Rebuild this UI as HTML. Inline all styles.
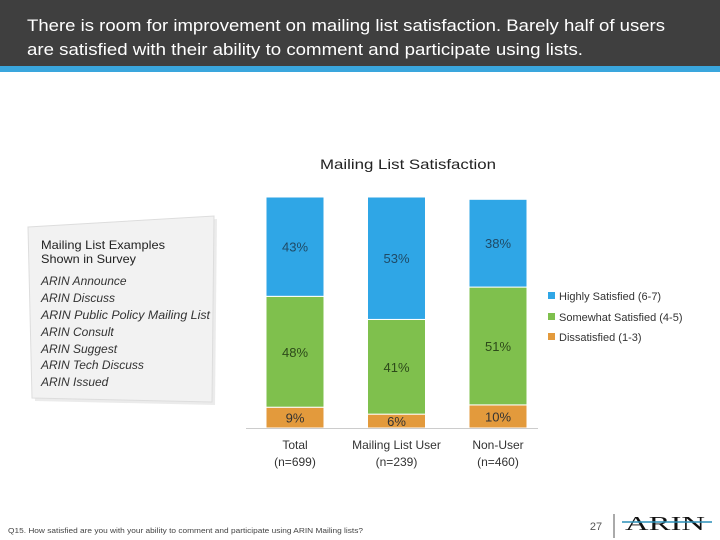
<!DOCTYPE html>
<html><head><meta charset="utf-8"><style>
body{margin:0;background:#fff}
svg{display:block;font-family:"Liberation Sans",sans-serif}
</style></head><body>
<svg id="c" width="720" height="540" viewBox="0 0 720 540">
<rect x="0" y="0" width="720" height="66" fill="#3f3f3f"/>
<rect x="0" y="66" width="720" height="6" fill="#3aa6dd"/>
<text x="27" y="31" fill="#fff" font-size="17" textLength="638" lengthAdjust="spacingAndGlyphs">There is room for improvement on mailing list satisfaction.  Barely half of users</text>
<text x="27" y="55" fill="#fff" font-size="17" textLength="556" lengthAdjust="spacingAndGlyphs">are satisfied with their ability to comment and participate using lists.</text>
<text x="408" y="169" text-anchor="middle" font-size="14" fill="#222" textLength="176" lengthAdjust="spacingAndGlyphs">Mailing List Satisfaction</text>
<g>
<polygon points="31,230 217,219 215,405 35,401" fill="#ddd" opacity="0.6"/>
<polygon points="28,227 214,216 212,402 32,398" fill="#f2f2f2" stroke="#ddd"/>
<text x="41" y="249" font-size="12" fill="#222" textLength="124" lengthAdjust="spacingAndGlyphs">Mailing List Examples</text>
<text x="41" y="263" font-size="12" fill="#222" textLength="95" lengthAdjust="spacingAndGlyphs">Shown in Survey</text>
<g font-size="12" font-style="italic" fill="#333">
<text x="41" y="285">ARIN Announce</text>
<text x="41" y="302">ARIN Discuss</text>
<text x="41" y="319" textLength="169" lengthAdjust="spacingAndGlyphs">ARIN Public Policy Mailing List</text>
<text x="41" y="336">ARIN Consult</text>
<text x="41" y="353">ARIN Suggest</text>
<text x="41" y="369">ARIN Tech Discuss</text>
<text x="41" y="386">ARIN Issued</text>
</g></g>
<g id="bars"></g>
<line x1="246" y1="428.5" x2="538" y2="428.5" stroke="#ccc"/>
<g font-size="11" fill="#333">
<rect x="548" y="292" width="7" height="7" fill="#2fa6e6"/>
<text x="559" y="300">Highly Satisfied (6-7)</text>
<rect x="548" y="313" width="7" height="7" fill="#7fc04d"/>
<text x="559" y="321">Somewhat Satisfied (4-5)</text>
<rect x="548" y="333" width="7" height="7" fill="#e39a3c"/>
<text x="559" y="341">Dissatisfied (1-3)</text>
</g>
<text x="8" y="533" font-size="7.5" fill="#444" textLength="355" lengthAdjust="spacingAndGlyphs">Q15.  How satisfied are you with your ability to comment and participate using ARIN Mailing lists?</text>
<text x="596" y="530" font-size="11" fill="#555" text-anchor="middle">27</text>
<line x1="614" y1="514" x2="614" y2="538" stroke="#555"/>
<g>
<text x="665" y="530" font-family="Liberation Serif,serif" font-size="20" text-anchor="middle" fill="#111" textLength="80" lengthAdjust="spacingAndGlyphs">ARIN</text>
<line x1="622" y1="522" x2="712" y2="522" stroke="#2a8fb8" stroke-width="1.5"/>
</g>
</svg>
<script>
const categories=["Total","Mailing List User","Non-User"];
const sampleLabels=["(n=699)","(n=239)","(n=460)"];
const dissatisfied=[9,6,10];
const somewhat=[48,41,51];
const highly=[43,53,38];
const colors=["#e39a3c","#7fc04d","#2fa6e6"];
const NS="http://www.w3.org/2000/svg";
const g=document.getElementById('bars');
const baseY=428, pxPer=2.31, barW=58;
function xPos(i){return 266+i*101.5;}
function yScale(v){return v*pxPer;}
const series=[dissatisfied,somewhat,highly];
const sNames=["dissatisfied","somewhat","highly"];
const labColors=["#333","#2d4a1a","#1f4a66"];
categories.forEach((c,i)=>{
  let y=baseY;
  series.forEach((s,k)=>{
    const h=yScale(s[i]);
    const r=document.createElementNS(NS,'rect');
    r.setAttribute('x',xPos(i));r.setAttribute('y',y-h);r.setAttribute('width',barW);r.setAttribute('height',h);
    r.setAttribute('fill',colors[k]);r.setAttribute('stroke','#fff');r.setAttribute('stroke-width','1');
    
    
    g.appendChild(r);
    const t=document.createElementNS(NS,'text');
    t.setAttribute('x',xPos(i)+barW/2);t.setAttribute('y',y-h/2+5);
    t.setAttribute('text-anchor','middle');t.setAttribute('font-size','13');t.setAttribute('fill',labColors[k]);
    t.textContent=s[i]+'%';
    
    
    g.appendChild(t);
    y-=h;
  });
  [c,sampleLabels[i]].forEach((txt,j)=>{
    const t=document.createElementNS(NS,'text');
    t.setAttribute('x',xPos(i)+barW/2);t.setAttribute('y',449+j*17);
    t.setAttribute('text-anchor','middle');t.setAttribute('font-size','12');t.setAttribute('fill','#333');
    t.textContent=txt;
    
    
    g.appendChild(t);
  });
});
</script>
</body></html>
